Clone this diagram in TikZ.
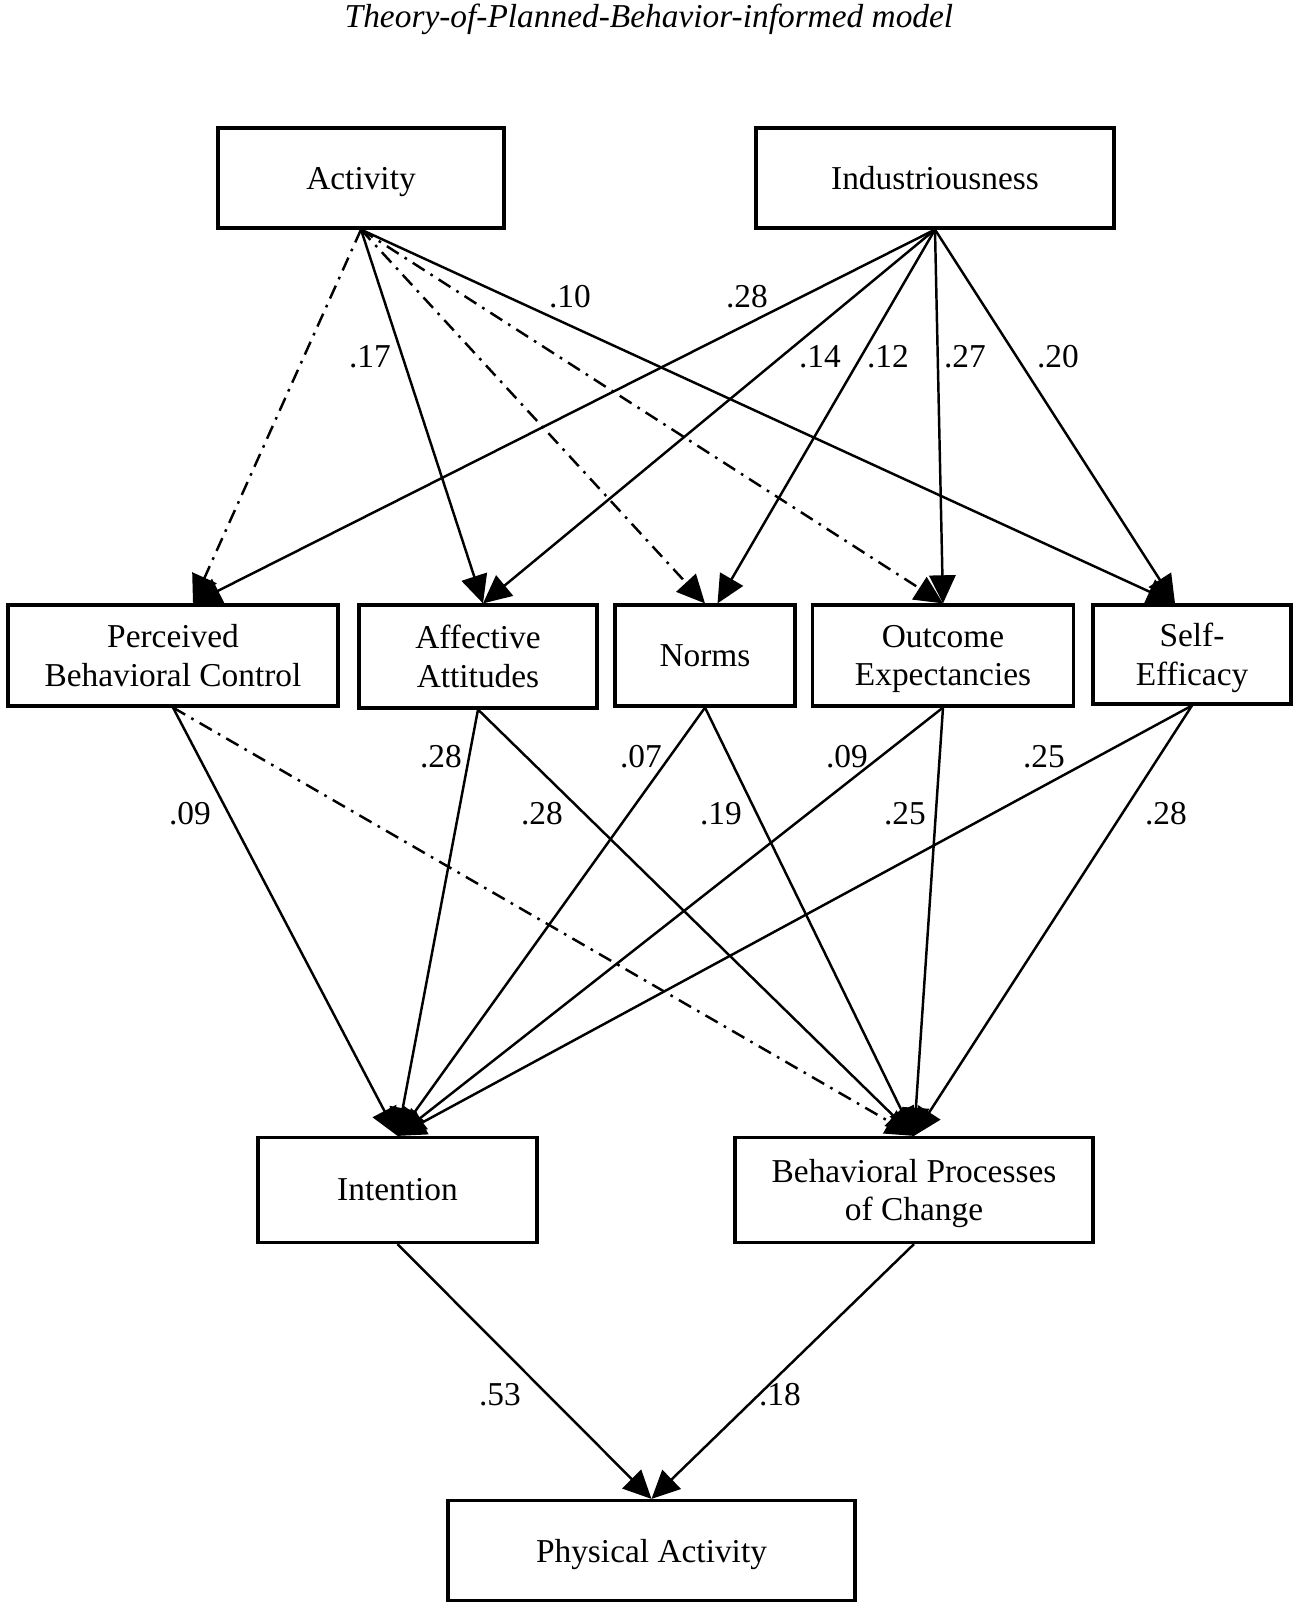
\documentclass[tikz,border=0pt]{standalone}
\usepackage{fontspec}
\setmainfont{Liberation Serif}
\usetikzlibrary{arrows.meta}
\newcommand{\nodep}[1]{\raisebox{0pt}[\height][0pt]{#1}}

\begin{document}
\begin{tikzpicture}[
    box/.style={draw, line width=1.8pt, minimum height=2cm, align=center,
      font=\fontsize{19}{22}\selectfont, inner sep=0pt},
    sig/.style={line width=1.4pt, -{Triangle[length=16pt,width=15pt]}},
    nonsig/.style={sig, dash pattern=on 8pt off 4pt on 1.5pt off 4pt},
    coef/.style={font=\fontsize{19}{22}\selectfont, inner sep=0pt}
  ]
            \useasboundingbox (0,0) rectangle (26,32.18);
            \node[font=\fontsize{19}{22}\selectfont\itshape] (title) at (12.98,31.8) {Theory-of-Planned-Behavior-informed model};
            % personality traits
            \node[box, minimum width=5.72cm] (act) at (7.22,28.62) {\nodep{Activity}};
            \node[box, minimum width=7.16cm] (ind) at (18.7,28.62) {Industriousness};
            % TPB constructs
            \node[box, minimum width=6.6cm, minimum height=2.02cm] (pbc) at (3.46,19.07) {Perceived\\Behavioral Control};
            \node[box, minimum width=4.76cm, minimum height=2.06cm] (aff) at (9.56,19.05) {Affective\\Attitudes};
            \node[box, minimum width=3.6cm, minimum height=2.02cm] (nor) at (14.1,19.07) {Norms};
            \node[box, minimum width=5.22cm, minimum height=2.02cm] (out) at (18.86,19.07) {Outcome\\\nodep{Expectancies}};
            \node[box, minimum width=3.96cm, minimum height=1.98cm] (se) at (23.84,19.09) {Self-\\\nodep{Efficacy}};
            \node[box, minimum width=5.58cm, minimum height=2.1cm] (int) at (7.95,8.38) {Intention};
            \node[box, minimum width=7.16cm, minimum height=2.1cm] (bpc) at (18.28,8.38) {Behavioral Processes\\\nodep{of Change}};
            \node[box, minimum width=8.14cm] (pa) at (13.03,1.17) {\nodep{Physical Activity}};
            % paths from the traits
            \draw[nonsig] (act.south) -- ([xshift=0.4cm]pbc.north);
            \draw[sig] (act.south) -- ([xshift=0.1cm]aff.north);
            \draw[nonsig] (act.south) -- (nor.north);
            \draw[nonsig] (act.south) -- (out.north);
            \draw[sig] (act.south) -- ([xshift=-0.34cm]se.north);
            \draw[sig] (ind.south) -- ([xshift=0.4cm]pbc.north);
            \draw[sig] (ind.south) -- ([xshift=0.1cm]aff.north);
            \draw[sig] (ind.south) -- ([xshift=0.25cm]nor.north);
            \draw[sig] (ind.south) -- (out.north);
            \draw[sig] (ind.south) -- ([xshift=-0.34cm]se.north);
            % paths to intention and processes
            \draw[sig] (pbc.south) -- (int.north);
            \draw[sig] (aff.south) -- (int.north);
            \draw[sig] (nor.south) -- (int.north);
            \draw[sig] (out.south) -- (int.north);
            \draw[sig] (se.south) -- (int.north);
            \draw[nonsig] (pbc.south) -- (bpc.north);
            \draw[sig] (aff.south) -- (bpc.north);
            \draw[sig] (nor.south) -- (bpc.north);
            \draw[sig] (out.south) -- (bpc.north);
            \draw[sig] (se.south) -- (bpc.north);
            \draw[sig] (int.south) -- (pa.north);
            \draw[sig] (bpc.south) -- (pa.north);
            % coefficients
            \node[coef] (c1) at (7.4,25.04) {.17};
            \node[coef] (c2) at (11.4,26.24) {.10};
            \node[coef] (c3) at (14.94,26.24) {.28};
            \node[coef] (c4) at (16.4,25.04) {.14};
            \node[coef] (c5) at (17.76,25.04) {.12};
            \node[coef] (c6) at (19.3,25.04) {.27};
            \node[coef] (c7) at (21.16,25.04) {.20};
            \node[coef] (c8) at (3.8,15.9) {.09};
            \node[coef] (c9) at (8.82,17.04) {.28};
            \node[coef] (c10) at (10.84,15.9) {.28};
            \node[coef] (c11) at (12.82,17.04) {.07};
            \node[coef] (c12) at (14.42,15.9) {.19};
            \node[coef] (c13) at (16.94,17.04) {.09};
            \node[coef] (c14) at (18.1,15.9) {.25};
            \node[coef] (c15) at (20.88,17.04) {.25};
            \node[coef] (c16) at (23.32,15.9) {.28};
            \node[coef] (c17) at (10.0,4.28) {.53};
            \node[coef] (c18) at (15.6,4.28) {.18};
          \end{tikzpicture}
\end{document}
